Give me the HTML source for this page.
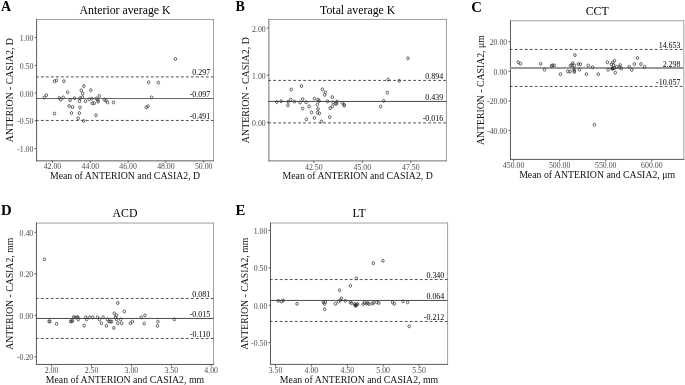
<!DOCTYPE html>
<html><head><meta charset="utf-8"><style>
html,body{margin:0;padding:0;background:#fff;width:685px;height:385px;overflow:hidden}
svg{display:block;will-change:transform}
text{font-family:"Liberation Serif", serif}
</style></head><body>
<svg width="685" height="385" viewBox="0 0 685 385">
<rect width="685" height="385" fill="#fff"/>
<g>
<text x="0.9" y="10.8" font-size="14" font-weight="bold" fill="#000">A</text>
<text x="125.05" y="13.5" font-size="11.8" text-anchor="middle" fill="#000">Anterior average K</text>
<path d="M36.6 19.45H214.0" stroke="#a0a0a0" stroke-width="1"/>
<path d="M213.5 18.95V160.85" stroke="#a0a0a0" stroke-width="1"/>
<path d="M36.6 18.95V161.35" stroke="#5a5a5a" stroke-width="1"/>
<path d="M36.1 160.85H214.0" stroke="#5a5a5a" stroke-width="1"/>
<path d="M34.6 37.60H36.6" stroke="#5a5a5a" stroke-width="1"/>
<text x="33.4" y="41.10" font-size="7.8" text-anchor="end" fill="#4d4d4d">1.00</text>
<path d="M34.6 65.35H36.6" stroke="#5a5a5a" stroke-width="1"/>
<text x="33.4" y="68.85" font-size="7.8" text-anchor="end" fill="#4d4d4d">0.50</text>
<path d="M34.6 93.10H36.6" stroke="#5a5a5a" stroke-width="1"/>
<text x="33.4" y="96.60" font-size="7.8" text-anchor="end" fill="#4d4d4d">0.00</text>
<path d="M34.6 120.85H36.6" stroke="#5a5a5a" stroke-width="1"/>
<text x="33.4" y="124.35" font-size="7.8" text-anchor="end" fill="#4d4d4d">-0.50</text>
<path d="M34.6 148.60H36.6" stroke="#5a5a5a" stroke-width="1"/>
<text x="33.4" y="152.10" font-size="7.8" text-anchor="end" fill="#4d4d4d">-1.00</text>
<path d="M52.50 160.85V162.85" stroke="#5a5a5a" stroke-width="1"/>
<text x="52.50" y="169.45" font-size="7.8" text-anchor="middle" fill="#4d4d4d">42.00</text>
<path d="M90.30 160.85V162.85" stroke="#5a5a5a" stroke-width="1"/>
<text x="90.30" y="169.45" font-size="7.8" text-anchor="middle" fill="#4d4d4d">44.00</text>
<path d="M128.10 160.85V162.85" stroke="#5a5a5a" stroke-width="1"/>
<text x="128.10" y="169.45" font-size="7.8" text-anchor="middle" fill="#4d4d4d">46.00</text>
<path d="M165.90 160.85V162.85" stroke="#5a5a5a" stroke-width="1"/>
<text x="165.90" y="169.45" font-size="7.8" text-anchor="middle" fill="#4d4d4d">48.00</text>
<path d="M203.70 160.85V162.85" stroke="#5a5a5a" stroke-width="1"/>
<text x="203.70" y="169.45" font-size="7.8" text-anchor="middle" fill="#4d4d4d">50.00</text>
<path d="M35.9 76.90H213.5" stroke="#505050" stroke-width="1" stroke-dasharray="2.8 2.2"/>
<text x="210.2" y="75.40" font-size="7.95" text-anchor="end" fill="#000">0.297</text>
<path d="M35.9 98.50H213.5" stroke="#6a6a6a" stroke-width="1"/>
<text x="210.2" y="97.00" font-size="7.95" text-anchor="end" fill="#000">-0.097</text>
<path d="M35.9 120.45H213.5" stroke="#505050" stroke-width="1" stroke-dasharray="2.8 2.2"/>
<text x="210.2" y="118.95" font-size="7.95" text-anchor="end" fill="#000">-0.491</text>
<ellipse cx="44.2" cy="97.6" rx="1.25" ry="1.5" fill="none" stroke="#333" stroke-width="0.75"/>
<ellipse cx="46.3" cy="95.2" rx="1.25" ry="1.5" fill="none" stroke="#333" stroke-width="0.75"/>
<ellipse cx="54.4" cy="81.4" rx="1.25" ry="1.5" fill="none" stroke="#333" stroke-width="0.75"/>
<ellipse cx="56.5" cy="80.3" rx="1.25" ry="1.5" fill="none" stroke="#333" stroke-width="0.75"/>
<ellipse cx="63.9" cy="81.2" rx="1.25" ry="1.5" fill="none" stroke="#333" stroke-width="0.75"/>
<ellipse cx="67.6" cy="92.3" rx="1.25" ry="1.5" fill="none" stroke="#333" stroke-width="0.75"/>
<ellipse cx="59.3" cy="98" rx="1.25" ry="1.5" fill="none" stroke="#333" stroke-width="0.75"/>
<ellipse cx="60.9" cy="99.6" rx="1.25" ry="1.5" fill="none" stroke="#333" stroke-width="0.75"/>
<ellipse cx="63.2" cy="97.4" rx="1.25" ry="1.5" fill="none" stroke="#333" stroke-width="0.75"/>
<ellipse cx="70.1" cy="100.2" rx="1.25" ry="1.5" fill="none" stroke="#333" stroke-width="0.75"/>
<ellipse cx="74.4" cy="98.2" rx="1.25" ry="1.5" fill="none" stroke="#333" stroke-width="0.75"/>
<ellipse cx="79.4" cy="101.2" rx="1.25" ry="1.5" fill="none" stroke="#333" stroke-width="0.75"/>
<ellipse cx="80" cy="98.2" rx="1.25" ry="1.5" fill="none" stroke="#333" stroke-width="0.75"/>
<ellipse cx="81.3" cy="90.4" rx="1.25" ry="1.5" fill="none" stroke="#333" stroke-width="0.75"/>
<ellipse cx="69.2" cy="106" rx="1.25" ry="1.5" fill="none" stroke="#333" stroke-width="0.75"/>
<ellipse cx="72.6" cy="107.1" rx="1.25" ry="1.5" fill="none" stroke="#333" stroke-width="0.75"/>
<ellipse cx="80" cy="107.5" rx="1.25" ry="1.5" fill="none" stroke="#333" stroke-width="0.75"/>
<ellipse cx="54.5" cy="113.6" rx="1.25" ry="1.5" fill="none" stroke="#333" stroke-width="0.75"/>
<ellipse cx="71.5" cy="113.1" rx="1.25" ry="1.5" fill="none" stroke="#333" stroke-width="0.75"/>
<ellipse cx="79.3" cy="113.1" rx="1.25" ry="1.5" fill="none" stroke="#333" stroke-width="0.75"/>
<ellipse cx="78.2" cy="118.3" rx="1.25" ry="1.5" fill="none" stroke="#333" stroke-width="0.75"/>
<ellipse cx="83.9" cy="86" rx="1.25" ry="1.5" fill="none" stroke="#333" stroke-width="0.75"/>
<ellipse cx="82.7" cy="93.4" rx="1.25" ry="1.5" fill="none" stroke="#333" stroke-width="0.75"/>
<ellipse cx="90.8" cy="90.2" rx="1.25" ry="1.5" fill="none" stroke="#333" stroke-width="0.75"/>
<ellipse cx="82.4" cy="97.1" rx="1.25" ry="1.5" fill="none" stroke="#333" stroke-width="0.75"/>
<ellipse cx="85.5" cy="101.2" rx="1.25" ry="1.5" fill="none" stroke="#333" stroke-width="0.75"/>
<ellipse cx="89.2" cy="99.3" rx="1.25" ry="1.5" fill="none" stroke="#333" stroke-width="0.75"/>
<ellipse cx="91.7" cy="98.7" rx="1.25" ry="1.5" fill="none" stroke="#333" stroke-width="0.75"/>
<ellipse cx="92.3" cy="103.2" rx="1.25" ry="1.5" fill="none" stroke="#333" stroke-width="0.75"/>
<ellipse cx="94.2" cy="103.2" rx="1.25" ry="1.5" fill="none" stroke="#333" stroke-width="0.75"/>
<ellipse cx="96.4" cy="98.5" rx="1.25" ry="1.5" fill="none" stroke="#333" stroke-width="0.75"/>
<ellipse cx="99.2" cy="95.9" rx="1.25" ry="1.5" fill="none" stroke="#333" stroke-width="0.75"/>
<ellipse cx="97.9" cy="100" rx="1.25" ry="1.5" fill="none" stroke="#333" stroke-width="0.75"/>
<ellipse cx="98.2" cy="101.6" rx="1.25" ry="1.5" fill="none" stroke="#333" stroke-width="0.75"/>
<ellipse cx="104.2" cy="99.6" rx="1.25" ry="1.5" fill="none" stroke="#333" stroke-width="0.75"/>
<ellipse cx="106" cy="100.5" rx="1.25" ry="1.5" fill="none" stroke="#333" stroke-width="0.75"/>
<ellipse cx="107.6" cy="102.4" rx="1.25" ry="1.5" fill="none" stroke="#333" stroke-width="0.75"/>
<ellipse cx="113.5" cy="102.4" rx="1.25" ry="1.5" fill="none" stroke="#333" stroke-width="0.75"/>
<ellipse cx="95.9" cy="115.3" rx="1.25" ry="1.5" fill="none" stroke="#333" stroke-width="0.75"/>
<ellipse cx="83.6" cy="120.9" rx="1.25" ry="1.5" fill="none" stroke="#333" stroke-width="0.75"/>
<ellipse cx="148.6" cy="82.3" rx="1.25" ry="1.5" fill="none" stroke="#333" stroke-width="0.75"/>
<ellipse cx="158.3" cy="82.5" rx="1.25" ry="1.5" fill="none" stroke="#333" stroke-width="0.75"/>
<ellipse cx="151.6" cy="97.4" rx="1.25" ry="1.5" fill="none" stroke="#333" stroke-width="0.75"/>
<ellipse cx="146.2" cy="107.4" rx="1.25" ry="1.5" fill="none" stroke="#333" stroke-width="0.75"/>
<ellipse cx="148" cy="106.3" rx="1.25" ry="1.5" fill="none" stroke="#333" stroke-width="0.75"/>
<ellipse cx="175.45" cy="58.9" rx="1.25" ry="1.5" fill="none" stroke="#333" stroke-width="0.75"/>
<text x="125.05" y="178.7" font-size="9.8" text-anchor="middle" fill="#111">Mean of ANTERION and CASIA2, D</text>
<text transform="translate(12.9 90.15) rotate(-90)" x="0" y="0" font-size="9.75" text-anchor="middle" fill="#111">ANTERION - CASIA2, D</text>
<text x="235.5" y="10.6" font-size="14" font-weight="bold" fill="#000">B</text>
<text x="357.67" y="13.5" font-size="11.8" text-anchor="middle" fill="#000">Total average K</text>
<path d="M268.9 19.45H446.95" stroke="#a0a0a0" stroke-width="1"/>
<path d="M446.45 18.95V160.9" stroke="#a0a0a0" stroke-width="1"/>
<path d="M268.9 18.95V161.4" stroke="#707070" stroke-width="1"/>
<path d="M268.4 160.9H446.95" stroke="#707070" stroke-width="1"/>
<path d="M266.9 28.00H268.9" stroke="#5a5a5a" stroke-width="1"/>
<text x="265.7" y="31.50" font-size="7.8" text-anchor="end" fill="#4d4d4d">2.00</text>
<path d="M266.9 75.20H268.9" stroke="#5a5a5a" stroke-width="1"/>
<text x="265.7" y="78.70" font-size="7.8" text-anchor="end" fill="#4d4d4d">1.00</text>
<path d="M266.9 122.40H268.9" stroke="#5a5a5a" stroke-width="1"/>
<text x="265.7" y="125.90" font-size="7.8" text-anchor="end" fill="#4d4d4d">0.00</text>
<path d="M313.80 160.9V162.9" stroke="#5a5a5a" stroke-width="1"/>
<text x="313.80" y="169.50" font-size="7.8" text-anchor="middle" fill="#4d4d4d">42.50</text>
<path d="M362.30 160.9V162.9" stroke="#5a5a5a" stroke-width="1"/>
<text x="362.30" y="169.50" font-size="7.8" text-anchor="middle" fill="#4d4d4d">45.00</text>
<path d="M410.80 160.9V162.9" stroke="#5a5a5a" stroke-width="1"/>
<text x="410.80" y="169.50" font-size="7.8" text-anchor="middle" fill="#4d4d4d">47.50</text>
<path d="M268.2 80.40H446.45" stroke="#505050" stroke-width="1" stroke-dasharray="2.8 2.2"/>
<text x="443.15" y="78.90" font-size="7.95" text-anchor="end" fill="#000">0.894</text>
<path d="M268.2 101.45H446.45" stroke="#4a4a4a" stroke-width="1"/>
<text x="443.15" y="99.95" font-size="7.95" text-anchor="end" fill="#000">0.439</text>
<path d="M268.2 122.90H446.45" stroke="#505050" stroke-width="1" stroke-dasharray="2.8 2.2"/>
<text x="443.15" y="121.40" font-size="7.95" text-anchor="end" fill="#000">-0.016</text>
<ellipse cx="276.75" cy="102" rx="1.25" ry="1.5" fill="none" stroke="#333" stroke-width="0.75"/>
<ellipse cx="281.2" cy="101.2" rx="1.25" ry="1.5" fill="none" stroke="#333" stroke-width="0.75"/>
<ellipse cx="291.2" cy="89.5" rx="1.25" ry="1.5" fill="none" stroke="#333" stroke-width="0.75"/>
<ellipse cx="301.4" cy="86" rx="1.25" ry="1.5" fill="none" stroke="#333" stroke-width="0.75"/>
<ellipse cx="288.2" cy="101.8" rx="1.25" ry="1.5" fill="none" stroke="#333" stroke-width="0.75"/>
<ellipse cx="290.8" cy="99.7" rx="1.25" ry="1.5" fill="none" stroke="#333" stroke-width="0.75"/>
<ellipse cx="287.9" cy="105.3" rx="1.25" ry="1.5" fill="none" stroke="#333" stroke-width="0.75"/>
<ellipse cx="294.4" cy="101.6" rx="1.25" ry="1.5" fill="none" stroke="#333" stroke-width="0.75"/>
<ellipse cx="300.1" cy="102.5" rx="1.25" ry="1.5" fill="none" stroke="#333" stroke-width="0.75"/>
<ellipse cx="302.7" cy="99.2" rx="1.25" ry="1.5" fill="none" stroke="#333" stroke-width="0.75"/>
<ellipse cx="306.1" cy="102.3" rx="1.25" ry="1.5" fill="none" stroke="#333" stroke-width="0.75"/>
<ellipse cx="302.7" cy="108.5" rx="1.25" ry="1.5" fill="none" stroke="#333" stroke-width="0.75"/>
<ellipse cx="309" cy="106.4" rx="1.25" ry="1.5" fill="none" stroke="#333" stroke-width="0.75"/>
<ellipse cx="314.4" cy="98.6" rx="1.25" ry="1.5" fill="none" stroke="#333" stroke-width="0.75"/>
<ellipse cx="311.6" cy="112.4" rx="1.25" ry="1.5" fill="none" stroke="#333" stroke-width="0.75"/>
<ellipse cx="306.4" cy="119.4" rx="1.25" ry="1.5" fill="none" stroke="#333" stroke-width="0.75"/>
<ellipse cx="314.4" cy="117.9" rx="1.25" ry="1.5" fill="none" stroke="#333" stroke-width="0.75"/>
<ellipse cx="317.4" cy="104.6" rx="1.25" ry="1.5" fill="none" stroke="#333" stroke-width="0.75"/>
<ellipse cx="318" cy="109" rx="1.25" ry="1.5" fill="none" stroke="#333" stroke-width="0.75"/>
<ellipse cx="317.4" cy="112.7" rx="1.25" ry="1.5" fill="none" stroke="#333" stroke-width="0.75"/>
<ellipse cx="319.4" cy="113.4" rx="1.25" ry="1.5" fill="none" stroke="#333" stroke-width="0.75"/>
<ellipse cx="319.1" cy="101" rx="1.25" ry="1.5" fill="none" stroke="#333" stroke-width="0.75"/>
<ellipse cx="318" cy="99.7" rx="1.25" ry="1.5" fill="none" stroke="#333" stroke-width="0.75"/>
<ellipse cx="321.4" cy="121.5" rx="1.25" ry="1.5" fill="none" stroke="#333" stroke-width="0.75"/>
<ellipse cx="322.3" cy="89.3" rx="1.25" ry="1.5" fill="none" stroke="#333" stroke-width="0.75"/>
<ellipse cx="325.3" cy="92.3" rx="1.25" ry="1.5" fill="none" stroke="#333" stroke-width="0.75"/>
<ellipse cx="324.7" cy="94.9" rx="1.25" ry="1.5" fill="none" stroke="#333" stroke-width="0.75"/>
<ellipse cx="332.3" cy="97.1" rx="1.25" ry="1.5" fill="none" stroke="#333" stroke-width="0.75"/>
<ellipse cx="327.5" cy="101.4" rx="1.25" ry="1.5" fill="none" stroke="#333" stroke-width="0.75"/>
<ellipse cx="333.1" cy="102.5" rx="1.25" ry="1.5" fill="none" stroke="#333" stroke-width="0.75"/>
<ellipse cx="335.3" cy="103.6" rx="1.25" ry="1.5" fill="none" stroke="#333" stroke-width="0.75"/>
<ellipse cx="337" cy="101.6" rx="1.25" ry="1.5" fill="none" stroke="#333" stroke-width="0.75"/>
<ellipse cx="336.6" cy="103.8" rx="1.25" ry="1.5" fill="none" stroke="#333" stroke-width="0.75"/>
<ellipse cx="332.3" cy="106.4" rx="1.25" ry="1.5" fill="none" stroke="#333" stroke-width="0.75"/>
<ellipse cx="330.1" cy="108.1" rx="1.25" ry="1.5" fill="none" stroke="#333" stroke-width="0.75"/>
<ellipse cx="329.7" cy="117.2" rx="1.25" ry="1.5" fill="none" stroke="#333" stroke-width="0.75"/>
<ellipse cx="342.2" cy="102.7" rx="1.25" ry="1.5" fill="none" stroke="#333" stroke-width="0.75"/>
<ellipse cx="344" cy="104.6" rx="1.25" ry="1.5" fill="none" stroke="#333" stroke-width="0.75"/>
<ellipse cx="344.3" cy="105.5" rx="1.25" ry="1.5" fill="none" stroke="#333" stroke-width="0.75"/>
<ellipse cx="388.2" cy="79.7" rx="1.25" ry="1.5" fill="none" stroke="#333" stroke-width="0.75"/>
<ellipse cx="399.2" cy="80.8" rx="1.25" ry="1.5" fill="none" stroke="#333" stroke-width="0.75"/>
<ellipse cx="387.4" cy="92.6" rx="1.25" ry="1.5" fill="none" stroke="#333" stroke-width="0.75"/>
<ellipse cx="383.7" cy="100.9" rx="1.25" ry="1.5" fill="none" stroke="#333" stroke-width="0.75"/>
<ellipse cx="380.7" cy="106.5" rx="1.25" ry="1.5" fill="none" stroke="#333" stroke-width="0.75"/>
<ellipse cx="407.9" cy="58.3" rx="1.25" ry="1.5" fill="none" stroke="#333" stroke-width="0.75"/>
<text x="357.67" y="178.7" font-size="9.8" text-anchor="middle" fill="#111">Mean of ANTERION and CASIA2, D</text>
<text transform="translate(248.8 90.17) rotate(-90)" x="0" y="0" font-size="9.95" text-anchor="middle" fill="#111">ANTERION - CASIA2, D</text>
<text x="471.3" y="11.9" font-size="14.7" font-weight="bold" fill="#000">C</text>
<text x="597.13" y="15" font-size="11.8" text-anchor="middle" fill="#000">CCT</text>
<path d="M510.47 20.8H684.3" stroke="#a0a0a0" stroke-width="1"/>
<path d="M683.8 20.3V159.4" stroke="#a0a0a0" stroke-width="1"/>
<path d="M510.47 20.3V159.9" stroke="#5a5a5a" stroke-width="1"/>
<path d="M509.97 159.4H684.3" stroke="#5a5a5a" stroke-width="1"/>
<path d="M508.47 41.74H510.47" stroke="#5a5a5a" stroke-width="1"/>
<text x="507.27000000000004" y="45.24" font-size="7.8" text-anchor="end" fill="#4d4d4d">20.00</text>
<path d="M508.47 71.30H510.47" stroke="#5a5a5a" stroke-width="1"/>
<text x="507.27000000000004" y="74.80" font-size="7.8" text-anchor="end" fill="#4d4d4d">0.00</text>
<path d="M508.47 100.86H510.47" stroke="#5a5a5a" stroke-width="1"/>
<text x="507.27000000000004" y="104.36" font-size="7.8" text-anchor="end" fill="#4d4d4d">-20.00</text>
<path d="M508.47 130.42H510.47" stroke="#5a5a5a" stroke-width="1"/>
<text x="507.27000000000004" y="133.92" font-size="7.8" text-anchor="end" fill="#4d4d4d">-40.00</text>
<path d="M513.60 159.4V161.4" stroke="#5a5a5a" stroke-width="1"/>
<text x="513.60" y="168.00" font-size="7.8" text-anchor="middle" fill="#4d4d4d">450.00</text>
<path d="M559.68 159.4V161.4" stroke="#5a5a5a" stroke-width="1"/>
<text x="559.68" y="168.00" font-size="7.8" text-anchor="middle" fill="#4d4d4d">500.00</text>
<path d="M605.75 159.4V161.4" stroke="#5a5a5a" stroke-width="1"/>
<text x="605.75" y="168.00" font-size="7.8" text-anchor="middle" fill="#4d4d4d">550.00</text>
<path d="M651.83 159.4V161.4" stroke="#5a5a5a" stroke-width="1"/>
<text x="651.83" y="168.00" font-size="7.8" text-anchor="middle" fill="#4d4d4d">600.00</text>
<path d="M509.77000000000004 49.45H683.8" stroke="#505050" stroke-width="1" stroke-dasharray="2.8 2.2"/>
<text x="680.5" y="47.95" font-size="7.95" text-anchor="end" fill="#000">14.653</text>
<path d="M509.77000000000004 68.00H683.8" stroke="#999" stroke-width="1.8"/>
<text x="680.5" y="66.50" font-size="7.95" text-anchor="end" fill="#000">2.298</text>
<path d="M509.77000000000004 86.45H683.8" stroke="#505050" stroke-width="1" stroke-dasharray="2.8 2.2"/>
<text x="680.5" y="84.95" font-size="7.95" text-anchor="end" fill="#000">-10.057</text>
<ellipse cx="612.5" cy="68.6" rx="1.6" ry="1.7" fill="#444" stroke="#333" stroke-width="0.6"/>
<ellipse cx="518.2" cy="62.3" rx="1.25" ry="1.5" fill="none" stroke="#333" stroke-width="0.75"/>
<ellipse cx="520.5" cy="63.8" rx="1.25" ry="1.5" fill="none" stroke="#333" stroke-width="0.75"/>
<ellipse cx="540.7" cy="63.8" rx="1.25" ry="1.5" fill="none" stroke="#333" stroke-width="0.75"/>
<ellipse cx="544.5" cy="69.7" rx="1.25" ry="1.5" fill="none" stroke="#333" stroke-width="0.75"/>
<ellipse cx="551.4" cy="65.8" rx="1.25" ry="1.5" fill="none" stroke="#333" stroke-width="0.75"/>
<ellipse cx="552.7" cy="65.4" rx="1.25" ry="1.5" fill="none" stroke="#333" stroke-width="0.75"/>
<ellipse cx="554.2" cy="65.4" rx="1.25" ry="1.5" fill="none" stroke="#333" stroke-width="0.75"/>
<ellipse cx="560.5" cy="74.2" rx="1.25" ry="1.5" fill="none" stroke="#333" stroke-width="0.75"/>
<ellipse cx="574.9" cy="55.1" rx="1.25" ry="1.5" fill="none" stroke="#333" stroke-width="0.75"/>
<ellipse cx="572.7" cy="63.2" rx="1.25" ry="1.5" fill="none" stroke="#333" stroke-width="0.75"/>
<ellipse cx="570.4" cy="65.5" rx="1.25" ry="1.5" fill="none" stroke="#333" stroke-width="0.75"/>
<ellipse cx="572" cy="65.1" rx="1.25" ry="1.5" fill="none" stroke="#333" stroke-width="0.75"/>
<ellipse cx="574.3" cy="65.4" rx="1.25" ry="1.5" fill="none" stroke="#333" stroke-width="0.75"/>
<ellipse cx="578.4" cy="64.1" rx="1.25" ry="1.5" fill="none" stroke="#333" stroke-width="0.75"/>
<ellipse cx="580.3" cy="64.1" rx="1.25" ry="1.5" fill="none" stroke="#333" stroke-width="0.75"/>
<ellipse cx="567.8" cy="71.4" rx="1.25" ry="1.5" fill="none" stroke="#333" stroke-width="0.75"/>
<ellipse cx="570.1" cy="71.6" rx="1.25" ry="1.5" fill="none" stroke="#333" stroke-width="0.75"/>
<ellipse cx="574.3" cy="70.7" rx="1.25" ry="1.5" fill="none" stroke="#333" stroke-width="0.75"/>
<ellipse cx="574.3" cy="72" rx="1.25" ry="1.5" fill="none" stroke="#333" stroke-width="0.75"/>
<ellipse cx="574" cy="69" rx="1.25" ry="1.5" fill="none" stroke="#333" stroke-width="0.75"/>
<ellipse cx="579.5" cy="69.7" rx="1.25" ry="1.5" fill="none" stroke="#333" stroke-width="0.75"/>
<ellipse cx="586.4" cy="74.2" rx="1.25" ry="1.5" fill="none" stroke="#333" stroke-width="0.75"/>
<ellipse cx="588.2" cy="65.5" rx="1.25" ry="1.5" fill="none" stroke="#333" stroke-width="0.75"/>
<ellipse cx="592.5" cy="67.1" rx="1.25" ry="1.5" fill="none" stroke="#333" stroke-width="0.75"/>
<ellipse cx="598.3" cy="74.2" rx="1.25" ry="1.5" fill="none" stroke="#333" stroke-width="0.75"/>
<ellipse cx="607.4" cy="62.3" rx="1.25" ry="1.5" fill="none" stroke="#333" stroke-width="0.75"/>
<ellipse cx="608" cy="69.7" rx="1.25" ry="1.5" fill="none" stroke="#333" stroke-width="0.75"/>
<ellipse cx="614.5" cy="60.8" rx="1.25" ry="1.5" fill="none" stroke="#333" stroke-width="0.75"/>
<ellipse cx="612.7" cy="62.5" rx="1.25" ry="1.5" fill="none" stroke="#333" stroke-width="0.75"/>
<ellipse cx="611.4" cy="64.2" rx="1.25" ry="1.5" fill="none" stroke="#333" stroke-width="0.75"/>
<ellipse cx="613.6" cy="65.1" rx="1.25" ry="1.5" fill="none" stroke="#333" stroke-width="0.75"/>
<ellipse cx="612.3" cy="68.4" rx="1.25" ry="1.5" fill="none" stroke="#333" stroke-width="0.75"/>
<ellipse cx="614.5" cy="68.1" rx="1.25" ry="1.5" fill="none" stroke="#333" stroke-width="0.75"/>
<ellipse cx="616.6" cy="66.8" rx="1.25" ry="1.5" fill="none" stroke="#333" stroke-width="0.75"/>
<ellipse cx="615.3" cy="72.7" rx="1.25" ry="1.5" fill="none" stroke="#333" stroke-width="0.75"/>
<ellipse cx="620.1" cy="65.1" rx="1.25" ry="1.5" fill="none" stroke="#333" stroke-width="0.75"/>
<ellipse cx="619.7" cy="67.3" rx="1.25" ry="1.5" fill="none" stroke="#333" stroke-width="0.75"/>
<ellipse cx="621.4" cy="68.6" rx="1.25" ry="1.5" fill="none" stroke="#333" stroke-width="0.75"/>
<ellipse cx="629.2" cy="66.8" rx="1.25" ry="1.5" fill="none" stroke="#333" stroke-width="0.75"/>
<ellipse cx="631.8" cy="69.9" rx="1.25" ry="1.5" fill="none" stroke="#333" stroke-width="0.75"/>
<ellipse cx="634.4" cy="64" rx="1.25" ry="1.5" fill="none" stroke="#333" stroke-width="0.75"/>
<ellipse cx="637.4" cy="58" rx="1.25" ry="1.5" fill="none" stroke="#333" stroke-width="0.75"/>
<ellipse cx="640.9" cy="64" rx="1.25" ry="1.5" fill="none" stroke="#333" stroke-width="0.75"/>
<ellipse cx="644.5" cy="66.8" rx="1.25" ry="1.5" fill="none" stroke="#333" stroke-width="0.75"/>
<ellipse cx="594.4" cy="124.7" rx="1.25" ry="1.5" fill="none" stroke="#333" stroke-width="0.75"/>
<text x="597.13" y="177.7" font-size="9.8" text-anchor="middle" fill="#111">Mean of ANTERION and CASIA2, μm</text>
<text transform="translate(483.8 90.10) rotate(-90)" x="0" y="0" font-size="9.75" text-anchor="middle" fill="#111">ANTERION - CASIA2, μm</text>
<text x="0.9" y="214.7" font-size="14.8" font-weight="bold" fill="#000">D</text>
<text x="124.97" y="217" font-size="11.8" text-anchor="middle" fill="#000">ACD</text>
<path d="M36.45 223.05H214.0" stroke="#a0a0a0" stroke-width="1"/>
<path d="M213.5 222.55V364.45" stroke="#a0a0a0" stroke-width="1"/>
<path d="M36.45 222.55V364.95" stroke="#5a5a5a" stroke-width="1"/>
<path d="M35.95 364.45H214.0" stroke="#5a5a5a" stroke-width="1"/>
<path d="M34.45 232.30H36.45" stroke="#5a5a5a" stroke-width="1"/>
<text x="33.25" y="235.80" font-size="7.8" text-anchor="end" fill="#4d4d4d">0.40</text>
<path d="M34.45 273.80H36.45" stroke="#5a5a5a" stroke-width="1"/>
<text x="33.25" y="277.30" font-size="7.8" text-anchor="end" fill="#4d4d4d">0.20</text>
<path d="M34.45 315.30H36.45" stroke="#5a5a5a" stroke-width="1"/>
<text x="33.25" y="318.80" font-size="7.8" text-anchor="end" fill="#4d4d4d">0.00</text>
<path d="M34.45 356.80H36.45" stroke="#5a5a5a" stroke-width="1"/>
<text x="33.25" y="360.30" font-size="7.8" text-anchor="end" fill="#4d4d4d">-0.20</text>
<path d="M51.60 364.45V366.45" stroke="#5a5a5a" stroke-width="1"/>
<text x="51.60" y="373.05" font-size="7.8" text-anchor="middle" fill="#4d4d4d">2.00</text>
<path d="M91.50 364.45V366.45" stroke="#5a5a5a" stroke-width="1"/>
<text x="91.50" y="373.05" font-size="7.8" text-anchor="middle" fill="#4d4d4d">2.50</text>
<path d="M131.40 364.45V366.45" stroke="#5a5a5a" stroke-width="1"/>
<text x="131.40" y="373.05" font-size="7.8" text-anchor="middle" fill="#4d4d4d">3.00</text>
<path d="M171.30 364.45V366.45" stroke="#5a5a5a" stroke-width="1"/>
<text x="171.30" y="373.05" font-size="7.8" text-anchor="middle" fill="#4d4d4d">3.50</text>
<path d="M211.20 364.45V366.45" stroke="#5a5a5a" stroke-width="1"/>
<text x="211.20" y="373.05" font-size="7.8" text-anchor="middle" fill="#4d4d4d">4.00</text>
<path d="M35.75 298.45H213.5" stroke="#505050" stroke-width="1" stroke-dasharray="2.8 2.2"/>
<text x="210.2" y="296.95" font-size="7.95" text-anchor="end" fill="#000">0.081</text>
<path d="M35.75 318.45H213.5" stroke="#4a4a4a" stroke-width="1"/>
<text x="210.2" y="316.95" font-size="7.95" text-anchor="end" fill="#000">-0.015</text>
<path d="M35.75 338.45H213.5" stroke="#505050" stroke-width="1" stroke-dasharray="2.8 2.2"/>
<text x="210.2" y="336.95" font-size="7.95" text-anchor="end" fill="#000">-0.110</text>
<ellipse cx="44.4" cy="259.4" rx="1.25" ry="1.5" fill="none" stroke="#333" stroke-width="0.75"/>
<ellipse cx="49" cy="321.4" rx="1.25" ry="1.5" fill="none" stroke="#333" stroke-width="0.75"/>
<ellipse cx="49.9" cy="321.4" rx="1.25" ry="1.5" fill="none" stroke="#333" stroke-width="0.75"/>
<ellipse cx="56.6" cy="323.8" rx="1.25" ry="1.5" fill="none" stroke="#333" stroke-width="0.75"/>
<ellipse cx="70.5" cy="321.4" rx="1.25" ry="1.5" fill="none" stroke="#333" stroke-width="0.75"/>
<ellipse cx="71.5" cy="321.4" rx="1.25" ry="1.5" fill="none" stroke="#333" stroke-width="0.75"/>
<ellipse cx="72.5" cy="321" rx="1.25" ry="1.5" fill="none" stroke="#333" stroke-width="0.75"/>
<ellipse cx="73.7" cy="317.3" rx="1.25" ry="1.5" fill="none" stroke="#333" stroke-width="0.75"/>
<ellipse cx="75" cy="317.3" rx="1.25" ry="1.5" fill="none" stroke="#333" stroke-width="0.75"/>
<ellipse cx="77" cy="317.3" rx="1.25" ry="1.5" fill="none" stroke="#333" stroke-width="0.75"/>
<ellipse cx="78" cy="317.3" rx="1.25" ry="1.5" fill="none" stroke="#333" stroke-width="0.75"/>
<ellipse cx="78.3" cy="319.5" rx="1.25" ry="1.5" fill="none" stroke="#333" stroke-width="0.75"/>
<ellipse cx="84.1" cy="325.6" rx="1.25" ry="1.5" fill="none" stroke="#333" stroke-width="0.75"/>
<ellipse cx="85.8" cy="317.3" rx="1.25" ry="1.5" fill="none" stroke="#333" stroke-width="0.75"/>
<ellipse cx="86.7" cy="319.5" rx="1.25" ry="1.5" fill="none" stroke="#333" stroke-width="0.75"/>
<ellipse cx="89.8" cy="317.3" rx="1.25" ry="1.5" fill="none" stroke="#333" stroke-width="0.75"/>
<ellipse cx="92.7" cy="317.3" rx="1.25" ry="1.5" fill="none" stroke="#333" stroke-width="0.75"/>
<ellipse cx="97.5" cy="317.3" rx="1.25" ry="1.5" fill="none" stroke="#333" stroke-width="0.75"/>
<ellipse cx="99.5" cy="319.4" rx="1.25" ry="1.5" fill="none" stroke="#333" stroke-width="0.75"/>
<ellipse cx="103.1" cy="317.3" rx="1.25" ry="1.5" fill="none" stroke="#333" stroke-width="0.75"/>
<ellipse cx="101.4" cy="323.3" rx="1.25" ry="1.5" fill="none" stroke="#333" stroke-width="0.75"/>
<ellipse cx="106.4" cy="325.8" rx="1.25" ry="1.5" fill="none" stroke="#333" stroke-width="0.75"/>
<ellipse cx="107.4" cy="319.4" rx="1.25" ry="1.5" fill="none" stroke="#333" stroke-width="0.75"/>
<ellipse cx="109" cy="321.4" rx="1.25" ry="1.5" fill="none" stroke="#333" stroke-width="0.75"/>
<ellipse cx="110.3" cy="321.6" rx="1.25" ry="1.5" fill="none" stroke="#333" stroke-width="0.75"/>
<ellipse cx="111.6" cy="321.6" rx="1.25" ry="1.5" fill="none" stroke="#333" stroke-width="0.75"/>
<ellipse cx="113.8" cy="327.9" rx="1.25" ry="1.5" fill="none" stroke="#333" stroke-width="0.75"/>
<ellipse cx="114.2" cy="313.4" rx="1.25" ry="1.5" fill="none" stroke="#333" stroke-width="0.75"/>
<ellipse cx="116.5" cy="315.4" rx="1.25" ry="1.5" fill="none" stroke="#333" stroke-width="0.75"/>
<ellipse cx="115.5" cy="317.3" rx="1.25" ry="1.5" fill="none" stroke="#333" stroke-width="0.75"/>
<ellipse cx="116.5" cy="319.4" rx="1.25" ry="1.5" fill="none" stroke="#333" stroke-width="0.75"/>
<ellipse cx="117.8" cy="303" rx="1.25" ry="1.5" fill="none" stroke="#333" stroke-width="0.75"/>
<ellipse cx="117.8" cy="323.3" rx="1.25" ry="1.5" fill="none" stroke="#333" stroke-width="0.75"/>
<ellipse cx="120.7" cy="319.4" rx="1.25" ry="1.5" fill="none" stroke="#333" stroke-width="0.75"/>
<ellipse cx="121.7" cy="323.3" rx="1.25" ry="1.5" fill="none" stroke="#333" stroke-width="0.75"/>
<ellipse cx="124.3" cy="311.4" rx="1.25" ry="1.5" fill="none" stroke="#333" stroke-width="0.75"/>
<ellipse cx="130.4" cy="323.3" rx="1.25" ry="1.5" fill="none" stroke="#333" stroke-width="0.75"/>
<ellipse cx="132.4" cy="321.6" rx="1.25" ry="1.5" fill="none" stroke="#333" stroke-width="0.75"/>
<ellipse cx="141.2" cy="317.3" rx="1.25" ry="1.5" fill="none" stroke="#333" stroke-width="0.75"/>
<ellipse cx="144.9" cy="315.4" rx="1.25" ry="1.5" fill="none" stroke="#333" stroke-width="0.75"/>
<ellipse cx="144.2" cy="323.6" rx="1.25" ry="1.5" fill="none" stroke="#333" stroke-width="0.75"/>
<ellipse cx="157.9" cy="321.6" rx="1.25" ry="1.5" fill="none" stroke="#333" stroke-width="0.75"/>
<ellipse cx="157.5" cy="325.9" rx="1.25" ry="1.5" fill="none" stroke="#333" stroke-width="0.75"/>
<ellipse cx="174.4" cy="319.4" rx="1.25" ry="1.5" fill="none" stroke="#333" stroke-width="0.75"/>
<text x="124.97" y="382.7" font-size="9.8" text-anchor="middle" fill="#111">Mean of ANTERION and CASIA2, mm</text>
<text transform="translate(12.9 293.75) rotate(-90)" x="0" y="0" font-size="9.75" text-anchor="middle" fill="#111">ANTERION - CASIA2, mm</text>
<text x="235.4" y="214.7" font-size="14.8" font-weight="bold" fill="#000">E</text>
<text x="359.05" y="217" font-size="11.8" text-anchor="middle" fill="#000">LT</text>
<path d="M270.5 223.0H448.1" stroke="#a0a0a0" stroke-width="1"/>
<path d="M447.6 222.5V364.4" stroke="#a0a0a0" stroke-width="1"/>
<path d="M270.5 222.5V364.9" stroke="#5a5a5a" stroke-width="1"/>
<path d="M270.0 364.4H448.1" stroke="#5a5a5a" stroke-width="1"/>
<path d="M268.5 230.40H270.5" stroke="#5a5a5a" stroke-width="1"/>
<text x="267.3" y="233.90" font-size="7.8" text-anchor="end" fill="#4d4d4d">1.00</text>
<path d="M268.5 267.80H270.5" stroke="#5a5a5a" stroke-width="1"/>
<text x="267.3" y="271.30" font-size="7.8" text-anchor="end" fill="#4d4d4d">0.50</text>
<path d="M268.5 305.20H270.5" stroke="#5a5a5a" stroke-width="1"/>
<text x="267.3" y="308.70" font-size="7.8" text-anchor="end" fill="#4d4d4d">0.00</text>
<path d="M268.5 342.60H270.5" stroke="#5a5a5a" stroke-width="1"/>
<text x="267.3" y="346.10" font-size="7.8" text-anchor="end" fill="#4d4d4d">-0.50</text>
<path d="M275.50 364.4V366.4" stroke="#5a5a5a" stroke-width="1"/>
<text x="275.50" y="373.00" font-size="7.8" text-anchor="middle" fill="#4d4d4d">3.50</text>
<path d="M311.40 364.4V366.4" stroke="#5a5a5a" stroke-width="1"/>
<text x="311.40" y="373.00" font-size="7.8" text-anchor="middle" fill="#4d4d4d">4.00</text>
<path d="M347.30 364.4V366.4" stroke="#5a5a5a" stroke-width="1"/>
<text x="347.30" y="373.00" font-size="7.8" text-anchor="middle" fill="#4d4d4d">4.50</text>
<path d="M383.20 364.4V366.4" stroke="#5a5a5a" stroke-width="1"/>
<text x="383.20" y="373.00" font-size="7.8" text-anchor="middle" fill="#4d4d4d">5.00</text>
<path d="M419.10 364.4V366.4" stroke="#5a5a5a" stroke-width="1"/>
<text x="419.10" y="373.00" font-size="7.8" text-anchor="middle" fill="#4d4d4d">5.50</text>
<path d="M269.8 279.55H447.6" stroke="#505050" stroke-width="1" stroke-dasharray="2.8 2.2"/>
<text x="444.3" y="278.05" font-size="7.95" text-anchor="end" fill="#000">0.340</text>
<path d="M269.8 300.45H447.6" stroke="#4a4a4a" stroke-width="1"/>
<text x="444.3" y="298.95" font-size="7.95" text-anchor="end" fill="#000">0.064</text>
<path d="M269.8 321.45H447.6" stroke="#505050" stroke-width="1" stroke-dasharray="2.8 2.2"/>
<text x="444.3" y="319.95" font-size="7.95" text-anchor="end" fill="#000">-0.212</text>
<ellipse cx="355.6" cy="305.3" rx="1.6" ry="1.7" fill="#444" stroke="#333" stroke-width="0.6"/>
<ellipse cx="278.3" cy="300.9" rx="1.25" ry="1.5" fill="none" stroke="#333" stroke-width="0.75"/>
<ellipse cx="281.6" cy="301.6" rx="1.25" ry="1.5" fill="none" stroke="#333" stroke-width="0.75"/>
<ellipse cx="283.2" cy="300.4" rx="1.25" ry="1.5" fill="none" stroke="#333" stroke-width="0.75"/>
<ellipse cx="297" cy="303.8" rx="1.25" ry="1.5" fill="none" stroke="#333" stroke-width="0.75"/>
<ellipse cx="323.3" cy="302.2" rx="1.25" ry="1.5" fill="none" stroke="#333" stroke-width="0.75"/>
<ellipse cx="325.4" cy="302.2" rx="1.25" ry="1.5" fill="none" stroke="#333" stroke-width="0.75"/>
<ellipse cx="324.3" cy="303.8" rx="1.25" ry="1.5" fill="none" stroke="#333" stroke-width="0.75"/>
<ellipse cx="324.7" cy="309.2" rx="1.25" ry="1.5" fill="none" stroke="#333" stroke-width="0.75"/>
<ellipse cx="335.4" cy="303.8" rx="1.25" ry="1.5" fill="none" stroke="#333" stroke-width="0.75"/>
<ellipse cx="338.5" cy="301.7" rx="1.25" ry="1.5" fill="none" stroke="#333" stroke-width="0.75"/>
<ellipse cx="339.6" cy="290.3" rx="1.25" ry="1.5" fill="none" stroke="#333" stroke-width="0.75"/>
<ellipse cx="340.4" cy="300.1" rx="1.25" ry="1.5" fill="none" stroke="#333" stroke-width="0.75"/>
<ellipse cx="341.5" cy="298.3" rx="1.25" ry="1.5" fill="none" stroke="#333" stroke-width="0.75"/>
<ellipse cx="345.3" cy="300.8" rx="1.25" ry="1.5" fill="none" stroke="#333" stroke-width="0.75"/>
<ellipse cx="350.4" cy="285.8" rx="1.25" ry="1.5" fill="none" stroke="#333" stroke-width="0.75"/>
<ellipse cx="350.3" cy="302.2" rx="1.25" ry="1.5" fill="none" stroke="#333" stroke-width="0.75"/>
<ellipse cx="351.5" cy="303.2" rx="1.25" ry="1.5" fill="none" stroke="#333" stroke-width="0.75"/>
<ellipse cx="356.3" cy="278.4" rx="1.25" ry="1.5" fill="none" stroke="#333" stroke-width="0.75"/>
<ellipse cx="354.7" cy="304" rx="1.25" ry="1.5" fill="none" stroke="#333" stroke-width="0.75"/>
<ellipse cx="355.5" cy="305.6" rx="1.25" ry="1.5" fill="none" stroke="#333" stroke-width="0.75"/>
<ellipse cx="356.7" cy="304.9" rx="1.25" ry="1.5" fill="none" stroke="#333" stroke-width="0.75"/>
<ellipse cx="357.7" cy="304" rx="1.25" ry="1.5" fill="none" stroke="#333" stroke-width="0.75"/>
<ellipse cx="363.2" cy="304" rx="1.25" ry="1.5" fill="none" stroke="#333" stroke-width="0.75"/>
<ellipse cx="364.5" cy="302.7" rx="1.25" ry="1.5" fill="none" stroke="#333" stroke-width="0.75"/>
<ellipse cx="366.4" cy="303.6" rx="1.25" ry="1.5" fill="none" stroke="#333" stroke-width="0.75"/>
<ellipse cx="367.7" cy="303" rx="1.25" ry="1.5" fill="none" stroke="#333" stroke-width="0.75"/>
<ellipse cx="369" cy="304" rx="1.25" ry="1.5" fill="none" stroke="#333" stroke-width="0.75"/>
<ellipse cx="372.3" cy="303.6" rx="1.25" ry="1.5" fill="none" stroke="#333" stroke-width="0.75"/>
<ellipse cx="373.6" cy="302.7" rx="1.25" ry="1.5" fill="none" stroke="#333" stroke-width="0.75"/>
<ellipse cx="376.8" cy="302.3" rx="1.25" ry="1.5" fill="none" stroke="#333" stroke-width="0.75"/>
<ellipse cx="378.8" cy="303" rx="1.25" ry="1.5" fill="none" stroke="#333" stroke-width="0.75"/>
<ellipse cx="373.3" cy="263.2" rx="1.25" ry="1.5" fill="none" stroke="#333" stroke-width="0.75"/>
<ellipse cx="382.9" cy="260.8" rx="1.25" ry="1.5" fill="none" stroke="#333" stroke-width="0.75"/>
<ellipse cx="392.5" cy="302.3" rx="1.25" ry="1.5" fill="none" stroke="#333" stroke-width="0.75"/>
<ellipse cx="394.3" cy="303.8" rx="1.25" ry="1.5" fill="none" stroke="#333" stroke-width="0.75"/>
<ellipse cx="403" cy="301.4" rx="1.25" ry="1.5" fill="none" stroke="#333" stroke-width="0.75"/>
<ellipse cx="407.6" cy="302.3" rx="1.25" ry="1.5" fill="none" stroke="#333" stroke-width="0.75"/>
<ellipse cx="409.2" cy="326.3" rx="1.25" ry="1.5" fill="none" stroke="#333" stroke-width="0.75"/>
<text x="359.05" y="382.7" font-size="9.8" text-anchor="middle" fill="#111">Mean of ANTERION and CASIA2, mm</text>
<text transform="translate(247.7 293.70) rotate(-90)" x="0" y="0" font-size="9.75" text-anchor="middle" fill="#111">ANTERION - CASIA2, mm</text>
</g>
</svg>
</body></html>
